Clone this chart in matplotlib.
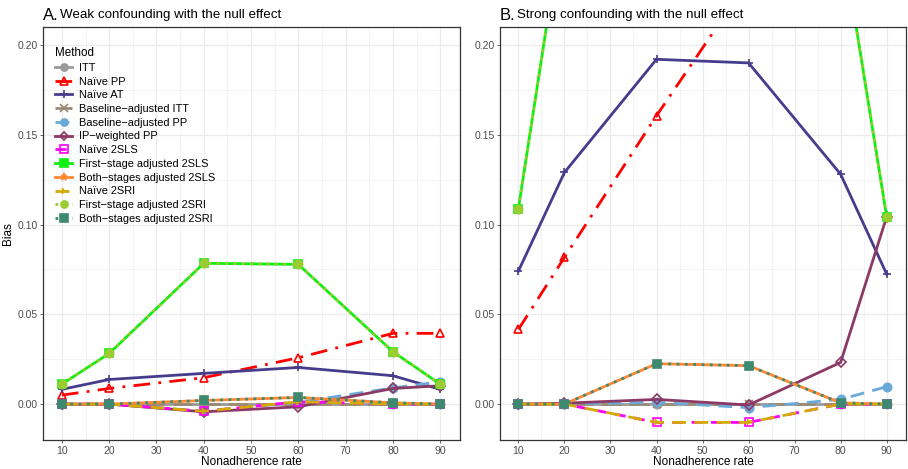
import matplotlib
matplotlib.use("Agg")
import matplotlib.pyplot as plt
from matplotlib.ticker import MultipleLocator

plt.rcParams['font.family'] = ['Liberation Sans', 'DejaVu Sans']

rates = [10, 20, 40, 60, 80, 90]

methods = ['ITT', 'Naïve PP', 'Naïve AT', 'Baseline−adjusted ITT', 'Baseline−adjusted PP',
           'IP−weighted PP', 'Naïve 2SLS', 'First−stage adjusted 2SLS', 'Both−stages adjusted 2SLS',
           'Naïve 2SRI', 'First−stage adjusted 2SRI', 'Both−stages adjusted 2SRI']

# bias values, panel A (weak confounding)
weak = {
    'ITT': [0, 0, 0, 0, 0, 0],
    'Naïve PP': [0.005, 0.0087, 0.0147, 0.0258, 0.0394, 0.0394],
    'Naïve AT': [0.0082, 0.0137, 0.0171, 0.0204, 0.0158, 0.0082],
    'Baseline−adjusted ITT': [0, 0, 0, 0, 0, 0],
    'Baseline−adjusted PP': [0, 0, -0.004, 0.001, 0.009, 0.0124],
    'IP−weighted PP': [0, 0, -0.0043, -0.0015, 0.0087, 0.0102],
    'Naïve 2SLS': [0, 0, -0.004, 0.0013, 0, 0],
    'First−stage adjusted 2SLS': [0.0111, 0.0282, 0.0784, 0.0778, 0.0292, 0.0111],
    'Both−stages adjusted 2SLS': [0, 0, 0.002, 0.0037, 0.0007, 0],
    'Naïve 2SRI': [0, 0, -0.004, 0.0013, 0, 0],
    'First−stage adjusted 2SRI': [0.0111, 0.0282, 0.0784, 0.0778, 0.0292, 0.0111],
    'Both−stages adjusted 2SRI': [0, 0, 0.002, 0.0037, 0.0007, 0],
}

# bias values, panel B (strong confounding)
strong = {
    'ITT': [0, 0, 0, 0, 0, 0],
    'Naïve PP': [0.0416, 0.0817, 0.1606, 0.236, 0.30, 0.33],
    'Naïve AT': [0.0741, 0.129, 0.192, 0.190, 0.128, 0.0724],
    'Baseline−adjusted ITT': [0, 0, 0, 0, 0, 0],
    'Baseline−adjusted PP': [0, 0, 0.001, -0.002, 0.0026, 0.0097],
    'IP−weighted PP': [0, 0.0005, 0.0026, -0.0005, 0.0232, 0.1043],
    'Naïve 2SLS': [0, 0, -0.0102, -0.0102, 0, 0],
    'First−stage adjusted 2SLS': [0.1089, 0.275, 0.45, 0.45, 0.264, 0.1043],
    'Both−stages adjusted 2SLS': [0, 0, 0.0225, 0.0214, 0.0007, 0],
    'Naïve 2SRI': [0, 0, -0.0102, -0.0102, 0, 0],
    'First−stage adjusted 2SRI': [0.1089, 0.275, 0.45, 0.45, 0.264, 0.1043],
    'Both−stages adjusted 2SRI': [0, 0, 0.0225, 0.0214, 0.0007, 0],
}

colors = ['#9a9a9a', '#ff0000', '#463c8c', '#9c8b73', '#6aaad8', '#8b3a66',
          '#ff00ff', '#11ee11', '#ff8833', '#d4aa00', '#9acd32', '#3e8a70']
styles = ['-', (0, (6, 3, 1, 3)), '-', (0, (7, 3)), (0, (5, 3)), '-',
          (0, (4, 3)), '-', '-', (0, (5, 3)), (0, (1, 2)), (0, (1, 2))]
markers = ['o', '^', '+', 'x', 'o', 'D', 's', 's', '*', '4', 'o', 's']
filled = [True, False, True, True, True, False, False, True, True, True, True, True]


def draw(ax, data, legend=False):
    for i, m in enumerate(methods):
        c = colors[i]
        ax.plot(rates, data[m], color=c, linestyle=styles[i], lw=2.0,
                marker=markers[i], ms=6 if markers[i] != 'D' else 5,
                mfc=c if filled[i] else 'none', mec=c, mew=1.2, label=m)
    ax.set_xlim(6, 94.2)
    ax.set_ylim(-0.02, 0.21)
    ax.xaxis.set_major_locator(MultipleLocator(10))
    ax.xaxis.set_minor_locator(MultipleLocator(5))
    ax.yaxis.set_major_locator(MultipleLocator(0.05))
    ax.yaxis.set_minor_locator(MultipleLocator(0.025))
    ax.grid(True, which='major', color='#ebebeb', lw=0.9)
    ax.grid(True, which='minor', color='#f2f2f2', lw=0.6)
    ax.set_axisbelow(True)
    ax.yaxis.set_major_formatter(plt.FuncFormatter(lambda v, p: f'{v:.2f}'))
    ax.tick_params(which='major', labelsize=7.5, colors='#4d4d4d', length=2.5, width=0.6, pad=1.5)
    ax.tick_params(which='minor', length=0)
    for s in ax.spines.values():
        s.set_color('#333333')
        s.set_linewidth(0.9)
    ax.set_xlabel('Nonadherence rate', fontsize=8.5, labelpad=0.5)
    if legend:
        leg = ax.legend(loc='upper left', bbox_to_anchor=(0.01, 0.97), frameon=False,
                        fontsize=7.9, title='Method', title_fontsize=8.4, handlelength=1.6,
                        labelspacing=0.34, handletextpad=0.6, borderaxespad=0.3,
                        markerscale=0.85)
        leg._legend_box.align = 'left'


fig = plt.figure(figsize=(9.08, 4.69), dpi=100)
axA = fig.add_axes([43 / 908, 29 / 469, 417 / 908, 413 / 469])
axB = fig.add_axes([500 / 908, 29 / 469, 406 / 908, 413 / 469])

draw(axA, weak, legend=True)
draw(axB, strong)
axA.set_ylabel('Bias', fontsize=8.5, labelpad=2)

fig.text(43 / 908, 1 - 15 / 469, 'A.', fontsize=12, va='center', ha='left')
fig.text(60 / 908, 1 - 15 / 469, 'Weak confounding with the null effect', fontsize=9.6, va='center', ha='left')
fig.text(500 / 908, 1 - 15 / 469, 'B.', fontsize=12, va='center', ha='left')
fig.text(517 / 908, 1 - 15 / 469, 'Strong confounding with the null effect', fontsize=9.6, va='center', ha='left')

fig.savefig('out.png', dpi=100)
